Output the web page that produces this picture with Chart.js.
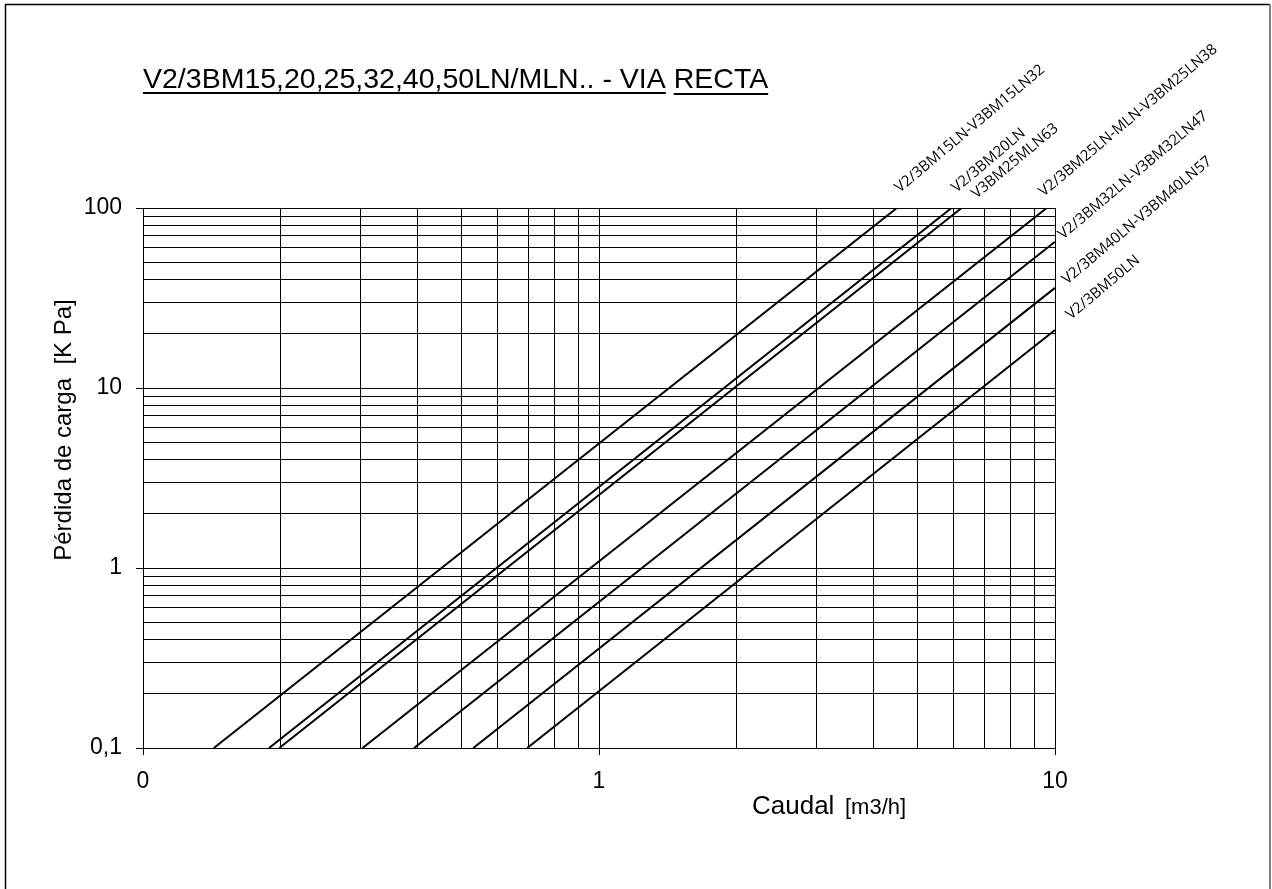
<!DOCTYPE html>
<html>
<head>
<meta charset="utf-8">
<title>V2/3BM - VIA RECTA</title>
<script src="https://cdn.jsdelivr.net/npm/chart.js@4.4.1/dist/chart.umd.min.js"></script>
<style>
  html, body { margin: 0; padding: 0; background: #fff; }
  #wrap { position: relative; width: 1272px; height: 889px; }
</style>
</head>
<body>
<div id="wrap"><canvas id="grafico" width="1272" height="889"></canvas></div>
<script>
/* =====================================
   Datos
===================================== */
const seriesNames = [
  "V2/3BM15LN-V3BM15LN32",
  "V2/3BM20LN",
  "V3BM25MLN63",
  "V2/3BM25LN-MLN-V3BM25LN38",
  "V2/3BM32LN-V3BM32LN47",
  "V2/3BM40LN-V3BM40LN57",
  "V2/3BM50LN"
];
// caudal [m3/h] y pérdida [kPa] en los dos extremos de cada recta
const caudalStart  = [0.143, 0.189, 0.199, 0.303, 0.393, 0.530, 0.696];
const perdidaStart = [0.1, 0.1, 0.1, 0.1, 0.1, 0.1, 0.1];
const caudalEnd    = [4.50, 5.93, 6.24, 9.59, 10, 10, 10];
const perdidaEnd   = [100, 100, 100, 100, 65, 36, 21];

const xTicks = [0.1, 0.2, 0.3, 0.4, 0.5, 0.6, 0.7, 0.8, 0.9, 1, 2, 3, 4, 5, 6, 7, 8, 9, 10];
const xTickLabels = { "0.1": "0", "1": "1", "10": "10" };
const yTicks = [0.1, 0.2, 0.3, 0.4, 0.5, 0.6, 0.7, 0.8, 0.9,
                1, 2, 3, 4, 5, 6, 7, 8, 9,
                10, 20, 30, 40, 50, 60, 70, 80, 90, 100];
const yTickLabels = { "0.1": "0,1", "1": "1", "10": "10", "100": "100" };

const chartTitle = "V2/3BM15,20,25,32,40,50LN/MLN.. - VIA";
const chartTitle2 = "RECTA";
const yTitle = "Pérdida de carga  [K Pa]";
const xTitle = "Caudal";
const xUnit = "[m3/h]";

/* =====================================
   Estilo
===================================== */
const SANS = "'Liberation Sans', Arial, sans-serif";
// desplazamiento de cada etiqueta respecto al final de su recta
const labelOffsets = [[3, -15], [5, -15], [15, -9], [-3, -11], [8, -2], [12, -3], [16, -10]];

function labelFor(map, v) {
  for (const k in map) {
    if (Math.abs(parseFloat(k) - v) < 1e-9) return map[k];
  }
  return "";
}

const datasets = seriesNames.map((name, i) => ({
  label: name,
  data: [
    { x: caudalStart[i], y: perdidaStart[i] },
    { x: caudalEnd[i], y: perdidaEnd[i] }
  ],
  borderColor: "#000",
  borderWidth: 2,
  pointRadius: 0,
  fill: false,
  tension: 0
}));

/* =====================================
   Textos: marco, título, ejes, etiquetas
===================================== */
const textosPlugin = {
  id: "textos",
  beforeDraw(chart) {
    const ctx = chart.ctx;
    ctx.save();
    ctx.fillStyle = "#fff";
    ctx.fillRect(0, 0, chart.width, chart.height);
    ctx.restore();
  },
  afterDraw(chart) {
    const ctx = chart.ctx;
    const xs = chart.scales.x, ys = chart.scales.y;
    ctx.save();

    // marco exterior
    ctx.strokeStyle = "#000";
    ctx.lineWidth = 1.5;
    ctx.beginPath();
    ctx.moveTo(5.5, 900);
    ctx.lineTo(5.5, 4.5);
    ctx.lineTo(1270, 4.5);
    ctx.stroke();
    ctx.strokeStyle = "#808080";
    ctx.lineWidth = 2;
    ctx.beginPath();
    ctx.moveTo(1270, 4.5);
    ctx.lineTo(1270, 900);
    ctx.stroke();

    // título subrayado
    ctx.fillStyle = "#000";
    ctx.font = "28.5px " + SANS;
    ctx.textBaseline = "alphabetic";
    ctx.textAlign = "left";
    const tx = 143, ty = 88;
    ctx.fillText(chartTitle, tx, ty);
    const w1 = ctx.measureText(chartTitle).width;
    const sp = ctx.measureText(" ").width;
    ctx.fillText(chartTitle2, tx + w1 + sp, ty);
    const w2 = ctx.measureText(chartTitle2).width;
    ctx.fillRect(tx, ty + 4, w1, 2);
    ctx.fillRect(tx + w1 + sp, ty + 5, w2, 2);

    // título eje Y
    ctx.save();
    ctx.translate(71, 430);
    ctx.rotate(-Math.PI / 2);
    ctx.font = "24px " + SANS;
    ctx.textAlign = "center";
    ctx.fillText(yTitle, 0, 0);
    ctx.restore();

    // título eje X
    ctx.font = "26px " + SANS;
    ctx.fillText(xTitle, 752, 814);
    ctx.font = "22px " + SANS;
    ctx.fillText(xUnit, 845, 814);

    // etiquetas de las rectas
    ctx.font = "15px 'Open Sans', sans-serif";
    seriesNames.forEach((name, i) => {
      const px = xs.getPixelForValue(caudalEnd[i]) + labelOffsets[i][0];
      const py = ys.getPixelForValue(perdidaEnd[i]) + labelOffsets[i][1];
      ctx.save();
      ctx.translate(px, py);
      ctx.rotate(-40 * Math.PI / 180);
      ctx.textAlign = "left";
      ctx.fillText(name, 0, 0);
      ctx.restore();
    });

    ctx.restore();
  }
};

/* =====================================
   Gráfico
===================================== */
new Chart(document.getElementById("grafico"), {
  type: "line",
  data: { datasets: datasets },
  plugins: [textosPlugin],
  options: {
    responsive: false,
    animation: false,
    events: [],
    layout: { padding: { left: 0, right: 217, top: 208, bottom: 0 } },
    plugins: {
      legend: { display: false },
      tooltip: { enabled: false },
      title: { display: false }
    },
    scales: {
      x: {
        type: "logarithmic",
        min: 0.1,
        max: 10,
        afterBuildTicks: s => { s.ticks = xTicks.map(v => ({ value: v })); },
        afterFit: s => { s.height = 141; },
        ticks: {
          autoSkip: false,
          maxRotation: 0,
          padding: 13,
          color: "#000",
          font: { family: SANS, size: 23 },
          callback: v => labelFor(xTickLabels, v)
        },
        grid: {
          color: "#000",
          lineWidth: 1,
          tickLength: 7,
          tickColor: c => (c.tick && labelFor(xTickLabels, c.tick.value) !== "") ? "#000" : "rgba(0,0,0,0)"
        },
        border: { color: "#000", width: 1 }
      },
      y: {
        type: "logarithmic",
        min: 0.1,
        max: 100,
        afterBuildTicks: s => { s.ticks = yTicks.map(v => ({ value: v })); },
        afterFit: s => { s.width = 143; },
        ticks: {
          autoSkip: false,
          padding: 14,
          color: "#000",
          font: { family: SANS, size: 23 },
          callback: v => labelFor(yTickLabels, v)
        },
        grid: {
          color: "#000",
          lineWidth: 1,
          tickLength: 7,
          tickColor: c => (c.tick && labelFor(yTickLabels, c.tick.value) !== "") ? "#000" : "rgba(0,0,0,0)"
        },
        border: { color: "#000", width: 1 }
      }
    }
  }
});
</script>
</body>
</html>
